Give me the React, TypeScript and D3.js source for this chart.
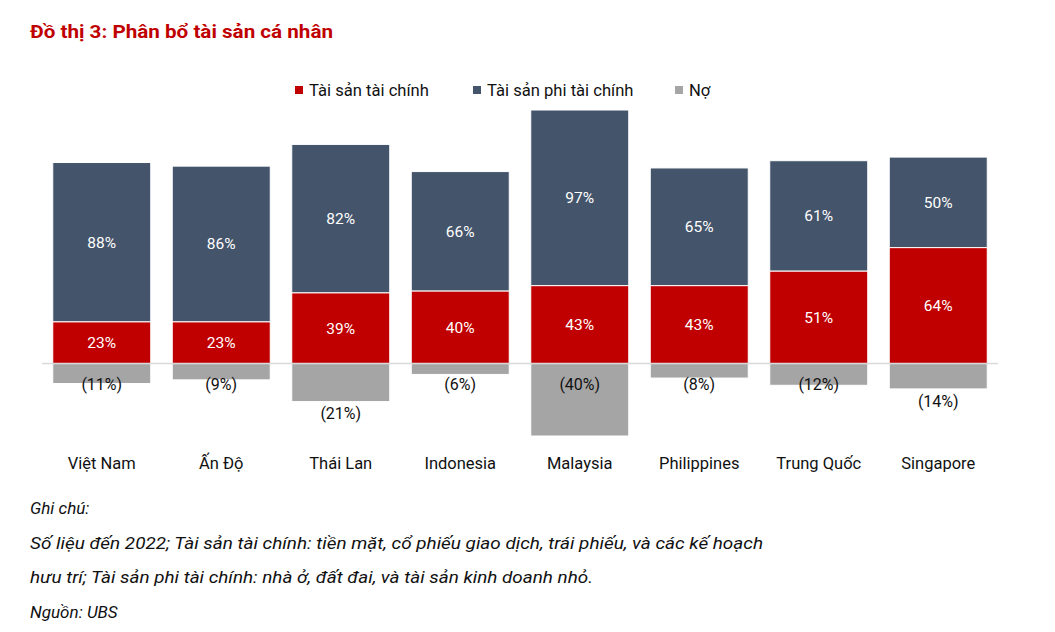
//@ts-nocheck
import * as d3 from "d3";

// Data (UBS, 2022) - % of personal wealth
const countries = ["Việt Nam", "Ấn Độ", "Thái Lan", "Indonesia", "Malaysia", "Philippines", "Trung Quốc", "Singapore"];
const financial = [23, 23, 39, 40, 43, 43, 51, 64];
const nonFinancial = [88, 86, 82, 66, 97, 65, 61, 50];
const debt = [-11, -9, -21, -6, -40, -8, -12, -14];

const seriesNames = ["Tài sản tài chính", "Tài sản phi tài chính", "Nợ"];
const colors = ["#C00000", "#44546A", "#A5A5A5"];

const title = "Đồ thị 3: Phân bổ tài sản cá nhân";
const notes = [
  "Ghi chú:",
  "Số liệu đến 2022; Tài sản tài chính: tiền mặt, cổ phiếu giao dịch, trái phiếu, và các kế hoạch",
  "hưu trí; Tài sản phi tài chính: nhà ở, đất đai, và tài sản kinh doanh nhỏ.",
  "Nguồn: UBS",
];

const W = 1055;
const H = 632;
const font = "Roboto, 'Noto Sans', sans-serif";

const App = () => {
  const x = d3.scaleBand().domain(countries).range([42, 998]).paddingInner(0.18).paddingOuter(0.09);
  const y = d3.scaleLinear().domain([-40, 140]).range([436, 110]);
  const fmt = (v) => (v < 0 ? `(${Math.abs(v)}%)` : `${v}%`);

  // debt labels: at the base, but mid-sized bars get theirs pushed below the bar end
  const debtLabelY = (v) => {
    const a = Math.abs(v);
    if (a >= 13 && a <= 30) return y(v) + 12;
    return y(0) + 21;
  };

  const legendItems = [
    { x: 299, text: seriesNames[0], color: colors[0] },
    { x: 477, text: seriesNames[1], color: colors[1] },
    { x: 679, text: seriesNames[2], color: colors[2] },
  ];

  const noteLens = [null, 733, 563, null];

  return (
    <svg width={W} height={H} style={{ position: "absolute", left: 0, top: 0, background: "#fff" }} fontFamily={font}>
      <text x={30} y={38} fill="#C00000" fontWeight="bold" fontSize={19} textLength={303} lengthAdjust="spacingAndGlyphs">
        {title}
      </text>

      {legendItems.map((d, i) => (
        <g key={i}>
          <rect x={d.x - 4} y={86} width={8} height={8} fill={d.color} />
          <text x={d.x + 10} y={96} fontSize={16.6} fill="#111">
            {d.text}
          </text>
        </g>
      ))}

      {countries.map((c, i) => {
        const x0 = x(c);
        const bw = x.bandwidth();
        const cx = x0 + bw / 2;
        const fTop = y(financial[i]);
        const nTop = y(financial[i] + nonFinancial[i]);
        return (
          <g key={c}>
            <rect x={x0} y={nTop} width={bw} height={fTop - nTop} fill={colors[1]} stroke="#fff" strokeWidth={1} />
            <rect x={x0} y={fTop} width={bw} height={y(0) - fTop} fill={colors[0]} stroke="#fff" strokeWidth={1} />
            <rect x={x0} y={y(0)} width={bw} height={y(debt[i]) - y(0)} fill={colors[2]} stroke="#fff" strokeWidth={1} />
            <text x={cx} y={(nTop + fTop) / 2} dy="0.35em" textAnchor="middle" fill="#fff" fontSize={15.5}>
              {fmt(nonFinancial[i])}
            </text>
            <text x={cx} y={(fTop + y(0)) / 2} dy="0.35em" textAnchor="middle" fill="#fff" fontSize={15.5}>
              {fmt(financial[i])}
            </text>
            <text x={cx} y={debtLabelY(debt[i])} dy="0.35em" textAnchor="middle" fill="#111" fontSize={16}>
              {fmt(debt[i])}
            </text>
            <text x={cx} y={463} dy="0.35em" textAnchor="middle" fill="#111" fontSize={16.5}>
              {c}
            </text>
          </g>
        );
      })}

      <line x1={42} x2={998} y1={y(0)} y2={y(0)} stroke="#D9D9D9" strokeWidth={1.5} />

      {notes.map((t, i) => (
        <text
          key={i}
          x={30}
          y={514 + i * 34.5}
          fontSize={17}
          fontStyle="italic"
          fill="#111"
          textLength={noteLens[i] || undefined}
          lengthAdjust={noteLens[i] ? "spacingAndGlyphs" : undefined}
        >
          {t}
        </text>
      ))}
    </svg>
  );
};

export default App;
